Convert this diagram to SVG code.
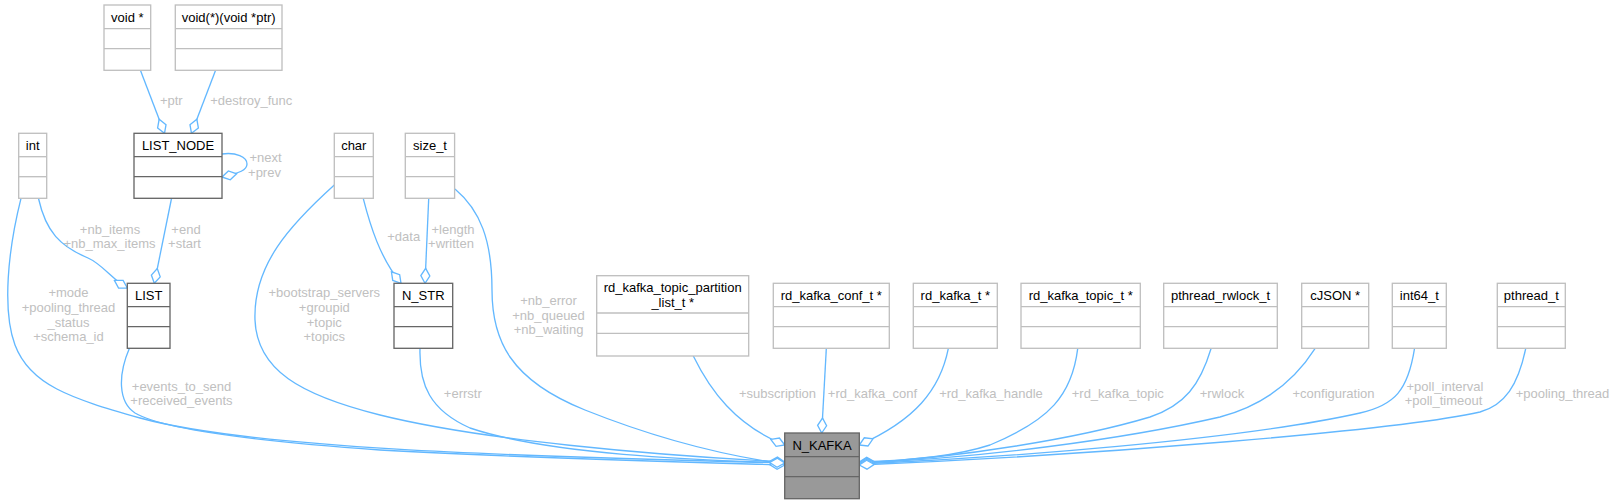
<svg xmlns="http://www.w3.org/2000/svg" width="1615" height="504" viewBox="0 0 1615 504">
<style>
.n rect{fill:#ffffff;stroke:#bfbfbf;stroke-width:1.33}
.n line{stroke:#bfbfbf;stroke-width:1.33}
.d rect,.d line{stroke:#666666}
.m rect{fill:#999999;stroke:#666666}
.m line{stroke:#666666}
.n text{font-family:"Liberation Sans",Arial,sans-serif;font-size:13px;fill:#000000;text-anchor:middle}
.e path{fill:none;stroke:#63b8ff;stroke-width:1.33;marker-end:url(#od)}
.l{font-family:"Liberation Sans",Arial,sans-serif;font-size:13px;fill:#c0c0c0;text-anchor:middle}
</style>
<defs>
<marker id="od" markerUnits="userSpaceOnUse" viewBox="-16 -6 17 12" refX="0" refY="0" markerWidth="17" markerHeight="12" orient="auto">
<path d="M0,0 L-7.5,-4.5 L-15,0 L-7.5,4.5 Z" fill="#ffffff" stroke="#63b8ff" stroke-width="1.33"/>
</marker>
</defs>
<rect width="1615" height="504" fill="#ffffff"/>
<g id="connectors" class="e">
<path d="M140.5,70.5 L164.5,133.3"/>
<path d="M215.5,70.5 L191.5,133.3"/>
<path d="M222,154 C236,152 247,157 247,164 C247,170 240,173 222,177"/>
<path d="M38.5,198.5 C46,232 60,246 88,258 C102,264 112,279 127.3,288"/>
<path d="M171.5,198.5 L154.3,283.3"/>
<path d="M363.3,198.7 C370,225 380,258 401,283.3"/>
<path d="M428.7,198.7 L425,283.3"/>
<path d="M455,189 C480,210 492,240 492,290 C492,340 510,380 585,410 C650,436 720,455 784.7,464"/>
<path d="M334.3,185 C290,225 253,265 255,320 C257,370 300,395 380,415 C480,440 650,455 784.7,462"/>
<path d="M21,198.3 C8,250 2,310 15,345 C30,385 70,398 140,418 C250,448 500,456 784.7,463"/>
<path d="M129.3,348.5 C118,375 118,402 135,413 C160,428 240,440 380,450 C520,458 680,462 784.7,465"/>
<path d="M420,348.7 C419,385 430,410 470,428 C550,455 700,460 784.7,463"/>
<path d="M693.3,356 C710,390 735,425 784.7,445"/>
<path d="M826.3,348.7 L821.7,433"/>
<path d="M948.3,348.7 C940,390 915,420 859.3,445"/>
<path d="M1077.7,348.7 C1072,395 1050,420 990,445 C950,458 900,461 859.3,462"/>
<path d="M1211,348.7 C1200,385 1185,405 1150,417 C1080,438 960,458 859.3,463"/>
<path d="M1315,348.7 C1295,380 1265,405 1220,417 C1120,440 980,458 859.3,463"/>
<path d="M1414.5,348.7 C1408,390 1395,405 1360,413 C1240,440 1000,458 859.3,464"/>
<path d="M1525.7,348.7 C1518,385 1505,405 1480,412 C1400,430 1100,455 859.3,465"/>
</g>
<g id="labels">
<text class="l" x="171.3" y="104.5">+ptr</text>
<text class="l" x="251.3" y="104.5">+destroy_func</text>
<text class="l" x="265.5" y="161.5">+next</text>
<text class="l" x="264.5" y="176.5">+prev</text>
<text class="l" x="110" y="233.5">+nb_items</text>
<text class="l" x="109.5" y="248">+nb_max_items</text>
<text class="l" x="186" y="233.5">+end</text>
<text class="l" x="184.5" y="248">+start</text>
<text class="l" x="403.7" y="241">+data</text>
<text class="l" x="453" y="233.5">+length</text>
<text class="l" x="451" y="247.5">+written</text>
<text class="l" x="68.5" y="297.2">+mode</text>
<text class="l" x="68.5" y="311.9">+pooling_thread</text>
<text class="l" x="68.5" y="326.5">_status</text>
<text class="l" x="68.5" y="341.2">+schema_id</text>
<text class="l" x="324.3" y="297.2">+bootstrap_servers</text>
<text class="l" x="324.3" y="311.9">+groupid</text>
<text class="l" x="324.3" y="326.5">+topic</text>
<text class="l" x="324.3" y="341.2">+topics</text>
<text class="l" x="548.5" y="305.2">+nb_error</text>
<text class="l" x="548.5" y="319.5">+nb_queued</text>
<text class="l" x="548.5" y="333.8">+nb_waiting</text>
<text class="l" x="181.5" y="390.5">+events_to_send</text>
<text class="l" x="181.5" y="405.2">+received_events</text>
<text class="l" x="462.8" y="397.8">+errstr</text>
<text class="l" x="777.5" y="397.8">+subscription</text>
<text class="l" x="872.5" y="397.8">+rd_kafka_conf</text>
<text class="l" x="991" y="397.8">+rd_kafka_handle</text>
<text class="l" x="1117.8" y="397.8">+rd_kafka_topic</text>
<text class="l" x="1222" y="397.8">+rwlock</text>
<text class="l" x="1333.5" y="397.8">+configuration</text>
<text class="l" x="1445" y="391.2">+poll_interval</text>
<text class="l" x="1443.5" y="405.2">+poll_timeout</text>
<text class="l" x="1562.5" y="397.8">+pooling_thread</text>
</g>
<g id="void_ptr" class="n"><rect x="104" y="5" width="46.7" height="65.3"/><line x1="104" y1="28.7" x2="150.7" y2="28.7"/><line x1="104" y1="48.7" x2="150.7" y2="48.7"/><text x="127.3" y="21.5">void *</text></g>
<g id="void_func" class="n"><rect x="175.3" y="5" width="106.7" height="65.3"/><line x1="175.3" y1="28.7" x2="282" y2="28.7"/><line x1="175.3" y1="48.7" x2="282" y2="48.7"/><text x="228.7" y="21.5">void(*)(void *ptr)</text></g>
<g id="int" class="n"><rect x="18.7" y="133.3" width="28" height="65"/><line x1="18.7" y1="156.7" x2="46.7" y2="156.7"/><line x1="18.7" y1="176.7" x2="46.7" y2="176.7"/><text x="32.7" y="149.8">int</text></g>
<g id="LIST_NODE" class="n d"><rect x="134" y="133.3" width="88" height="65"/><line x1="134" y1="156.7" x2="222" y2="156.7"/><line x1="134" y1="176.7" x2="222" y2="176.7"/><text x="178" y="149.8">LIST_NODE</text></g>
<g id="char" class="n"><rect x="334.3" y="133.3" width="39" height="65"/><line x1="334.3" y1="156.7" x2="373.3" y2="156.7"/><line x1="334.3" y1="176.7" x2="373.3" y2="176.7"/><text x="353.8" y="149.8">char</text></g>
<g id="size_t" class="n"><rect x="405.3" y="133.3" width="49.3" height="65"/><line x1="405.3" y1="156.7" x2="454.6" y2="156.7"/><line x1="405.3" y1="176.7" x2="454.6" y2="176.7"/><text x="430" y="149.8">size_t</text></g>
<g id="LIST" class="n d"><rect x="127.3" y="283.3" width="42.7" height="65"/><line x1="127.3" y1="306.7" x2="170" y2="306.7"/><line x1="127.3" y1="326.7" x2="170" y2="326.7"/><text x="148.7" y="299.8">LIST</text></g>
<g id="N_STR" class="n d"><rect x="394" y="283.3" width="58.7" height="65"/><line x1="394" y1="306.7" x2="452.7" y2="306.7"/><line x1="394" y1="326.7" x2="452.7" y2="326.7"/><text x="423.3" y="299.8">N_STR</text></g>
<g id="rd_kafka_topic_partition_list_t" class="n"><rect x="596.7" y="275.7" width="152" height="80.3"/><line x1="596.7" y1="313" x2="748.7" y2="313"/><line x1="596.7" y1="333.3" x2="748.7" y2="333.3"/><text x="672.7" y="291.8">rd_kafka_topic_partition</text><text x="672.7" y="306.8">_list_t *</text></g>
<g id="rd_kafka_conf_t" class="n"><rect x="773.3" y="283.3" width="116" height="65"/><line x1="773.3" y1="306.7" x2="889.3" y2="306.7"/><line x1="773.3" y1="326.7" x2="889.3" y2="326.7"/><text x="831.3" y="299.8">rd_kafka_conf_t *</text></g>
<g id="rd_kafka_t" class="n"><rect x="913.3" y="283.3" width="84" height="65"/><line x1="913.3" y1="306.7" x2="997.3" y2="306.7"/><line x1="913.3" y1="326.7" x2="997.3" y2="326.7"/><text x="955.3" y="299.8">rd_kafka_t *</text></g>
<g id="rd_kafka_topic_t" class="n"><rect x="1021" y="283.3" width="119.3" height="65"/><line x1="1021" y1="306.7" x2="1140.3" y2="306.7"/><line x1="1021" y1="326.7" x2="1140.3" y2="326.7"/><text x="1080.7" y="299.8">rd_kafka_topic_t *</text></g>
<g id="pthread_rwlock_t" class="n"><rect x="1163.7" y="283.3" width="113.6" height="65"/><line x1="1163.7" y1="306.7" x2="1277.3" y2="306.7"/><line x1="1163.7" y1="326.7" x2="1277.3" y2="326.7"/><text x="1220.5" y="299.8">pthread_rwlock_t</text></g>
<g id="cJSON" class="n"><rect x="1301.7" y="283.3" width="67" height="65"/><line x1="1301.7" y1="306.7" x2="1368.7" y2="306.7"/><line x1="1301.7" y1="326.7" x2="1368.7" y2="326.7"/><text x="1335.2" y="299.8">cJSON *</text></g>
<g id="int64_t" class="n"><rect x="1392.3" y="283.3" width="54" height="65"/><line x1="1392.3" y1="306.7" x2="1446.3" y2="306.7"/><line x1="1392.3" y1="326.7" x2="1446.3" y2="326.7"/><text x="1419.3" y="299.8">int64_t</text></g>
<g id="pthread_t" class="n"><rect x="1497.3" y="283.3" width="68" height="65"/><line x1="1497.3" y1="306.7" x2="1565.3" y2="306.7"/><line x1="1497.3" y1="326.7" x2="1565.3" y2="326.7"/><text x="1531.3" y="299.8">pthread_t</text></g>
<g id="N_KAFKA" class="n m"><rect x="784.7" y="433" width="74.6" height="65.7"/><line x1="784.7" y1="456.7" x2="859.3" y2="456.7"/><line x1="784.7" y1="476.7" x2="859.3" y2="476.7"/><text x="822" y="449.5">N_KAFKA</text></g>
</svg>
